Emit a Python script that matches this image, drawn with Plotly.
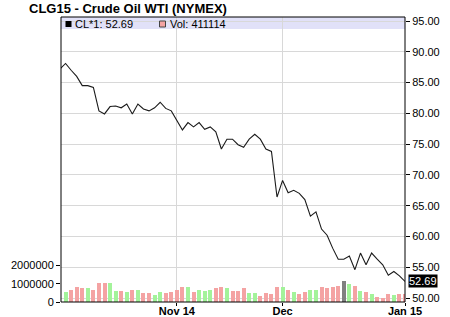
import pandas as pd
import plotly.graph_objects as go

# ---- data ----
holidays = ["2014-11-27", "2014-12-25", "2015-01-01"]
dates = [d.strftime("%Y-%m-%d") for d in pd.bdate_range("2014-10-03", "2015-01-02")
         if d.strftime("%Y-%m-%d") not in holidays]

price = [87.2, 88.1, 87.0, 86.0, 84.5, 84.5, 84.2, 80.4, 79.9, 81.1,
         81.2, 80.9, 81.5, 79.9, 81.5, 80.7, 80.4, 80.9, 81.8, 80.8,
         80.4, 78.9, 77.3, 78.5, 77.8, 78.5, 77.4, 77.8, 77.0, 74.2,
         75.8, 75.8, 74.9, 74.5, 75.8, 76.6, 75.8, 74.2, 73.8, 66.4,
         69.1, 67.1, 67.5, 67.0, 66.0, 63.3, 64.0, 61.2, 60.2, 58.1,
         56.3, 56.3, 56.8, 54.6, 57.3, 55.4, 57.3, 56.3, 55.4, 53.7,
         54.3, 53.6, 52.69]

# volume (millions) for dates[1:]
volume_m = [0.54, 0.68, 0.84, 0.74, 0.79, 0.63, 1.05, 1.05, 1.02, 0.58,
            0.58, 0.54, 0.63, 0.63, 0.47, 0.47, 0.37, 0.53, 0.47, 0.53,
            0.68, 0.84, 0.84, 0.53, 0.63, 0.60, 0.63, 0.74, 0.84, 0.74,
            0.58, 0.58, 0.79, 0.47, 0.47, 0.32, 0.47, 0.42, 0.84, 0.84,
            0.63, 0.53, 0.42, 0.53, 0.68, 0.63, 0.84, 0.74, 0.84, 0.89,
            1.16, 1.00, 0.89, 0.58, 0.53, 0.42, 0.26, 0.21, 0.42, 0.37,
            0.42, 0.42]
volume_dir = ["u", "d", "d", "d", "u", "d", "d", "d", "u", "u",
              "d", "u", "d", "u", "d", "d", "u", "u", "d", "d",
              "d", "d", "u", "d", "u", "u", "u", "d", "d", "u",
              "d", "d", "d", "u", "u", "d", "d", "d", "d", "u",
              "d", "u", "d", "d", "u", "u", "d", "d", "d", "d",
              "r", "u", "d", "u", "d", "u", "d", "d", "d", "u",
              "d", "d"]

price_ticks = [50, 55, 60, 65, 70, 75, 80, 85, 90, 95]
vol_ticks = [0, 1000000, 2000000]
x_tick_dates = ["2014-11-03", "2014-12-01", "2015-01-02"]
x_tick_text = ["Nov 14", "Dec", "Jan 15"]
title_text = "CLG15 - Crude Oil WTI (NYMEX)"
last_price_text = "52.69"
legend_price_text = "CL*1: 52.69"
legend_vol_text = "Vol: 411114"

# ---- style ----
FONT = "Liberation Sans, Arial, sans-serif"
dir_colors = {"u": "#a3f39a", "d": "#f4a3a3", "r": "#808080"}
W, H = 450, 317
L, R, T, B = 61, 405, 17, 302


def px_x(p):
    return (p - L) / (R - L)


def px_y(p):
    return (B - p) / (B - T)


fig = go.Figure()
fig.add_trace(go.Bar(
    x=dates[1:], y=[v * 1e6 for v in volume_m],
    marker=dict(color=[dir_colors[d] for d in volume_dir], line=dict(width=0)),
    width=0.72, yaxis="y", hoverinfo="skip"))
fig.add_trace(go.Scatter(
    x=dates, y=price, mode="lines", line=dict(color="#1a1a1a", width=1.1),
    yaxis="y2", hoverinfo="skip"))

fig.update_layout(
    width=W, height=H, margin=dict(l=L, r=W - R, t=T, b=H - B),
    paper_bgcolor="white", plot_bgcolor="white", showlegend=False,
    font=dict(family=FONT, size=11, color="#000"),
    bargap=0,
    xaxis=dict(type="category", categoryorder="array", categoryarray=dates,
               range=[0.18, 62.0], tickvals=x_tick_dates,
               ticktext=["<b>%s</b>" % t for t in x_tick_text],
               showgrid=True, gridcolor="#d8d8d8", gridwidth=1,
               ticks="outside", ticklen=3, tickcolor="#000",
               ticklabelstandoff=-4,
               tickfont=dict(size=11, family=FONT, color="#000"),
               showline=False, zeroline=False, automargin=False),
    yaxis=dict(range=[0, 15.57e6], tickvals=vol_ticks,
               ticktext=[str(v) for v in vol_ticks], side="left",
               showgrid=False, zeroline=False, ticks="outside", ticklen=4,
               tickcolor="#000", tickfont=dict(size=11, color="#000"),
               automargin=False),
    yaxis2=dict(range=[49.35, 95.65], tickvals=price_ticks,
                ticktext=["%.2f" % v for v in price_ticks], side="right",
                overlaying="y", showgrid=True, gridcolor="#d8d8d8",
                zeroline=False, ticks="outside", ticklen=4, tickcolor="#000",
                tickfont=dict(size=11, color="#000"), automargin=False),
)

shapes = [
    # legend band
    dict(type="rect", xref="paper", yref="paper", x0=0, x1=1,
         y0=px_y(29), y1=1, fillcolor="#e1e1f8", line=dict(width=0), layer="below"),
    # frame
    dict(type="rect", xref="paper", yref="paper", x0=0, x1=1, y0=0, y1=1,
         line=dict(color="#000", width=1), fillcolor="rgba(0,0,0,0)"),
    # legend markers
    dict(type="rect", xref="paper", yref="paper", x0=px_x(65.5), x1=px_x(71.5),
         y0=px_y(27), y1=px_y(21), fillcolor="#000", line=dict(width=0)),
    dict(type="rect", xref="paper", yref="paper", x0=px_x(159.5), x1=px_x(165.5),
         y0=px_y(27), y1=px_y(21), fillcolor="#f4a3a3",
         line=dict(color="#444", width=1)),
]
fig.update_layout(shapes=shapes)

annotations = [
    dict(text="<b>%s</b>" % title_text, xref="paper", yref="paper",
         x=px_x(27), y=px_y(9), xanchor="left", yanchor="middle",
         showarrow=False, font=dict(size=13, family=FONT, color="#000")),
    dict(text=legend_price_text, xref="paper", yref="paper",
         x=px_x(73), y=px_y(24), xanchor="left", yanchor="middle",
         showarrow=False, font=dict(size=11, family=FONT, color="#000")),
    dict(text=legend_vol_text, xref="paper", yref="paper",
         x=px_x(168), y=px_y(24), xanchor="left", yanchor="middle",
         showarrow=False, font=dict(size=11, family=FONT, color="#000")),
    dict(text=last_price_text, xref="paper", yref="y2", x=1, y=price[-1],
         xanchor="left", yanchor="middle", xshift=3, showarrow=False,
         bgcolor="#000", borderpad=0,
         font=dict(size=11, family=FONT, color="#fff")),
]
fig.update_layout(annotations=annotations)

fig.write_html("out.html")
